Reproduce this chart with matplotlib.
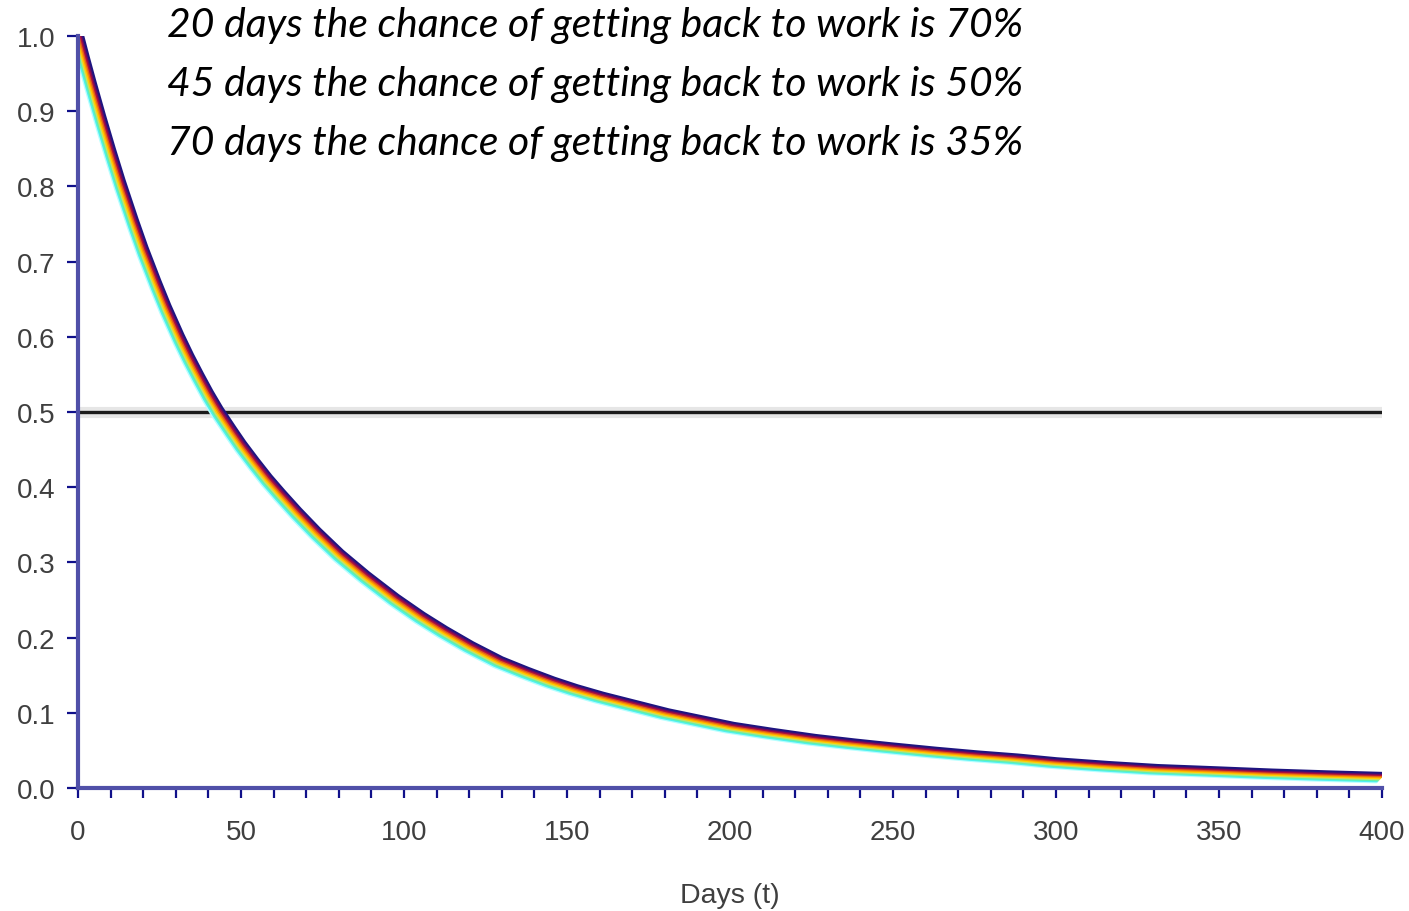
import numpy as np
import matplotlib.pyplot as plt
from matplotlib import patheffects as pe
from matplotlib.ticker import MultipleLocator, FormatStrFormatter

# values
days = [0, 2, 4, 7, 10, 13, 17, 20, 24, 27, 31, 34, 37, 40, 43, 47, 50, 54,
        58, 62, 67, 73, 80, 88, 97, 105, 112, 120, 129, 137, 145, 152, 160,
        170, 180, 190, 200, 212, 225, 237, 248, 262, 275, 287, 299, 315, 330,
        348, 365, 382, 400]
chance = [1.0, 0.967, 0.935, 0.889, 0.845, 0.803, 0.751, 0.714, 0.669, 0.637,
          0.598, 0.571, 0.546, 0.522, 0.5, 0.474, 0.455, 0.432, 0.41, 0.39,
          0.366, 0.339, 0.31, 0.281, 0.251, 0.227, 0.208, 0.188, 0.168, 0.154,
          0.141, 0.131, 0.121, 0.11, 0.099, 0.09, 0.081, 0.073, 0.065, 0.059,
          0.054, 0.048, 0.043, 0.039, 0.034, 0.029, 0.025, 0.022, 0.019,
          0.0166, 0.0144]
half_level = 0.5
notes = ["20 days the chance of getting back to work is 70%",
         "45 days the chance of getting back to work is 50%",
         "70 days the chance of getting back to work is 35%"]

tick_font = ['Liberation Sans', 'DejaVu Sans']
axis_col = '#5050a8'
label_col = '#3f3f3f'

fig = plt.figure(figsize=(14.09, 9.12), dpi=100)
ax = fig.add_axes([78/1409, 123/912, 1304/1409, 752/912])

# 0.5 reference line, with a faint grey halo
ax.axhline(half_level, color='#e6e6e6', lw=8, zorder=2)
ax.axhline(half_level, color='#1c1c1c', lw=2.4, zorder=3)

# rainbow band: one curve, stroked several times with small offsets
band = ['#b8ffff', '#50f0f0', '#60f0a8', '#c0e070', '#ffd000', '#ff9a00',
        '#e0601a', '#b0103c', '#6b0a60', '#1e1480']
step = 0.75
effects = []
for i, c in enumerate(band):
    k = (i - 5) * step
    effects.append(pe.Stroke(offset=(k, k), linewidth=1.5, foreground=c))
ax.plot(days, chance, color='#ff9a00', lw=1.5, zorder=4,
        path_effects=effects, solid_capstyle='butt')

ax.set_xlim(0, 400)
ax.set_ylim(0, 1.0)

for s in ['top', 'right']:
    ax.spines[s].set_visible(False)
for s in ['left', 'bottom']:
    ax.spines[s].set_color(axis_col)
    ax.spines[s].set_linewidth(3)
    ax.spines[s].set_zorder(5)

ax.xaxis.set_major_locator(MultipleLocator(50))
ax.xaxis.set_minor_locator(MultipleLocator(10))
ax.yaxis.set_major_locator(MultipleLocator(0.1))
ax.yaxis.set_major_formatter(FormatStrFormatter('%.1f'))
ax.tick_params(which='both', direction='out', color='#10108a', width=1.6)
ax.tick_params(axis='x', which='both', length=7, pad=15)
ax.tick_params(axis='y', length=8, pad=8)

for lab in ax.get_xticklabels():
    lab.set_family(tick_font)
    lab.set_fontsize(20)
    lab.set_color(label_col)
for lab in ax.get_yticklabels():
    lab.set_family(tick_font)
    lab.set_fontsize(20)
    lab.set_color(label_col)

ax.set_xlabel("Days (t)", family=tick_font, fontsize=20.5, color=label_col,
              labelpad=27)

for i, t in enumerate(notes):
    fig.text(167/1409, 1 - (37 + i*59)/912, t, family='Lato', style='italic',
             fontsize=29.4, color='black', ha='left', va='baseline')

plt.savefig('out.png', dpi=100)
